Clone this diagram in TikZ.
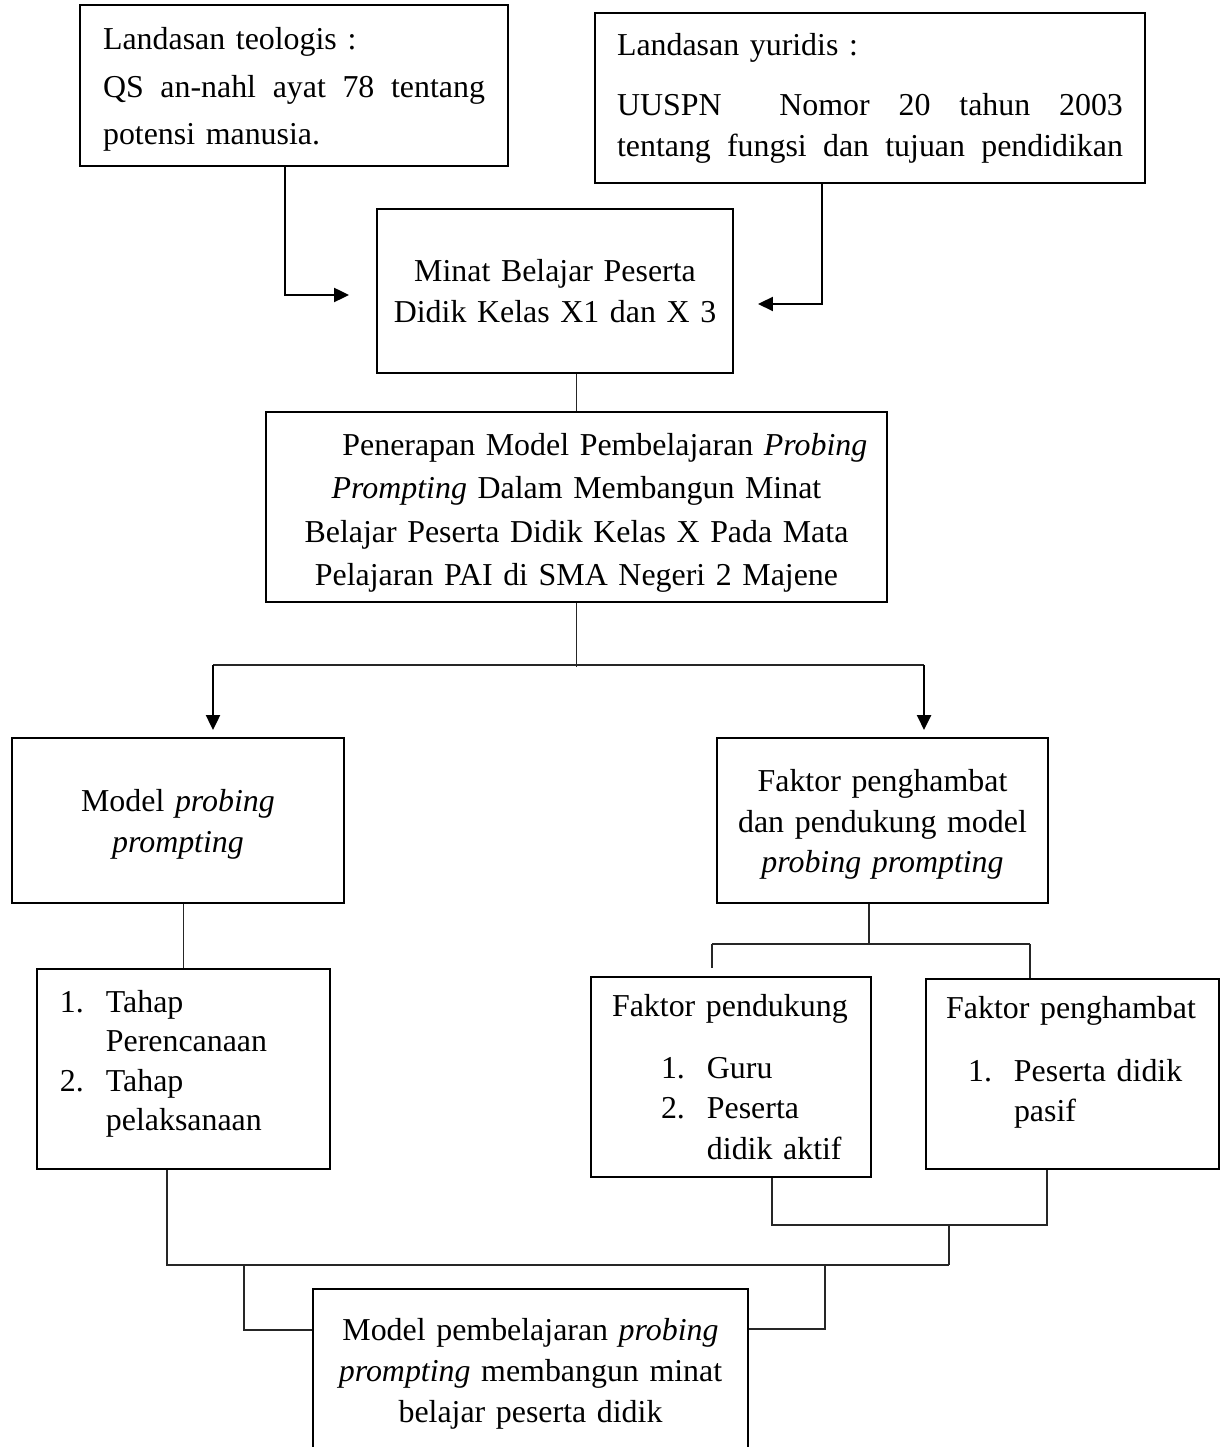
\documentclass[tikz,border=0pt]{standalone}
\usepackage{fontspec}
\setmainfont{Liberation Serif}
\usetikzlibrary{arrows.meta,calc}

\newcommand{\nomor}[1]{\makebox[17pt][l]{#1}}
\newcommand{\atas}[1]{\rule{0pt}{#1}}

\begin{document}
\begin{tikzpicture}[x=0.37pt,y=-0.37pt,
    font=\fontsize{11.8pt}{15pt}\selectfont,
    box/.style 2 args={draw,line width=0.8pt,inner sep=0pt,
        minimum width=#1*0.37pt,minimum height=#2*0.37pt},
    garis/.style={line width=0.45pt,black!85},
    panah/.style={line width=0.8pt,-{Triangle[length=5.5pt,width=5.2pt]}}]
    \clip (0,0) rectangle (1221,1447);
    \fill[white] (0,0) rectangle (1221,1447);
    % landasan
    \node[box={428}{161},text width=141.3pt,align=left,
        font=\fontsize{11.8pt}{17.6pt}\selectfont] (teologis) at (294,85.5)
        {\atas{11.2pt}Landasan teologis :\\ \makebox[141.3pt][l]{QS\hfill an-nahl\hfill ayat\hfill 78\hfill tentang}\\ potensi manusia.};
    \node[box={550}{170},text width=187.2pt,align=left] (yuridis) at (870,98)
        {Landasan yuridis :\\[7.4pt] \makebox[187.2pt][l]{UUSPN\hfill\hfill Nomor\hfill 20\hfill tahun\hfill 2003}\\
        \makebox[187.2pt][l]{tentang\hfill fungsi\hfill dan\hfill tujuan\hfill pendidikan}};
    \node[box={356}{164},text width=122pt,align=center] (minat) at (555,291)
        {Minat Belajar Peserta\\ Didik Kelas X1 dan X 3};
    \node[box={621}{190},text width=222pt,align=center,
        font=\fontsize{11.8pt}{16pt}\selectfont] (penerapan) at (576.5,507)
        {\atas{12.6pt}\hspace*{21pt}Penerapan Model Pembelajaran \textit{Probing}\\ \textit{Prompting} Dalam Membangun Minat\\
        Belajar Peserta Didik Kelas X Pada Mata\\ Pelajaran PAI di SMA Negeri 2 Majene};
    % cabang kiri dan kanan
    \node[box={332}{165},text width=111pt,align=center] (model) at (178,820.5)
        {\atas{11.2pt}Model \textit{probing}\\ \textit{prompting}};
    \node[box={331}{165},text width=114.7pt,align=center] (faktor) at (882.5,820.5)
        {\atas{11.2pt}Faktor penghambat\\ dan pendukung model\\ \textit{probing prompting}};
    \node[box={293}{200},text width=91.4pt,align=left,
        font=\fontsize{11.8pt}{14.5pt}\selectfont] (tahap) at (183.5,1069)
        {\nomor{1.}Tahap\\ \hspace*{17pt}Perencanaan\\ \nomor{2.}Tahap\\
        \hspace*{17pt}pelaksanaan\rule[-6.3pt]{0pt}{0pt}};
    \node[box={280}{200},text width=88pt,align=left] (pendukung) at (731,1077)
        {\mbox{Faktor pendukung}\\[7.8pt] \hspace*{18.1pt}\nomor{1.}Guru\\ \hspace*{18.1pt}\nomor{2.}Peserta\\
        \hspace*{35.1pt}didik aktif};
    \node[box={293}{190},text width=93.5pt,align=left] (penghambat) at (1072.5,1074)
        {\mbox{Faktor penghambat}\\[8pt] \hspace*{8.1pt}\nomor{1.}Peserta didik\\
        \hspace*{25.1pt}pasif\rule[-11pt]{0pt}{0pt}};
    \node[box={435}{164},text width=155pt,align=center,
        font=\fontsize{11.8pt}{15.2pt}\selectfont] (hasil) at (530.5,1371)
        {\atas{10.4pt}Model pembelajaran \textit{probing}\\ \textit{prompting} membangun minat\\ belajar peserta didik};

    \draw[panah] ($(teologis.south west)+(206,0)$) |- ($(minat.west)+(-27,4)$);
    \draw[panah] ($(yuridis.south west)+(228,0)$) |- ($(minat.east)+(24,13)$);
    \draw[garis] (minat.south -| penerapan.north) -- (penerapan.north);

    \coordinate (cabang) at (penerapan.south |- 0,667);
    \coordinate (kiri) at (213,665);
    \coordinate (kanan) at (924,665);
    \draw[garis] (penerapan.south) -- (cabang);
    \draw[garis] (kiri) -- (kanan);
    \draw[panah] (kiri) -- ($(model.north -| kiri)+(0,-7)$);
    \draw[panah] (kanan) -- ($(faktor.north -| kanan)+(0,-7)$);

    \draw[garis] (tahap.north |- model.south) -- (tahap.north);
    \coordinate (fk) at (869,944);
    \coordinate (fkl) at (712,944);
    \coordinate (fkr) at (1030,944);
    \draw[garis] (faktor.south -| fk) -- (fk);
    \draw[garis] (fkl) -- (fkr);
    \draw[garis] (fkl) -- ($(pendukung.north -| fkl)+(0,-8)$);
    \draw[garis] (fkr) -- (penghambat.north -| fkr);

    % gabung ke hasil
    \coordinate (gl) at (772,1225);
    \coordinate (gr) at (1047,1225);
    \coordinate (gm) at (949,1225);
    \coordinate (bawah) at (949,1265);
    \coordinate (bl) at (167,1265);
    \coordinate (hl) at (244,1265);
    \coordinate (hr) at (825,1265);
    \draw[garis] (pendukung.south -| gl) -- (gl) -- (gr) -- (penghambat.south -| gr);
    \draw[garis] (gm) -- (bawah);
    \draw[garis] (tahap.south -| bl) -- (bl) -- (bawah);
    \draw[garis] (hl) |- ($(hasil.west)+(0,-41)$);
    \draw[garis] (hr) |- ($(hasil.east)+(0,-42)$);
\end{tikzpicture}
\end{document}
